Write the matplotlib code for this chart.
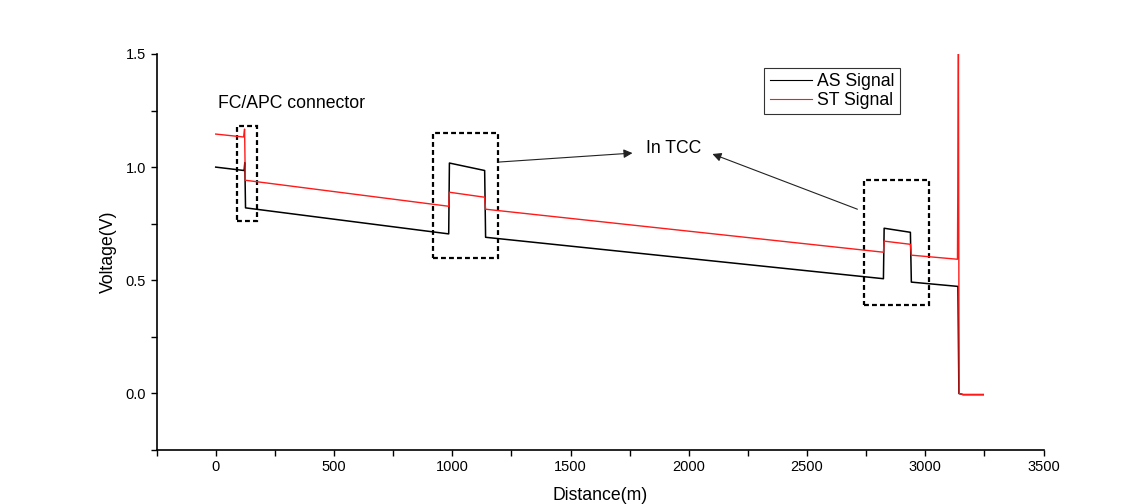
#!/usr/bin/env python

import matplotlib
matplotlib.use('Agg')
import matplotlib.pyplot as plt
from matplotlib.patches import Rectangle
from matplotlib.ticker import MultipleLocator

# AS signal (black), breakpoints
as_dist = [0, 120, 123, 126, 985, 988, 1137, 1141, 2823, 2826, 2937, 2941, 3138, 3142, 3160, 3245]
as_volt = [1.00, 0.985, 1.02, 0.82, 0.705, 1.018, 0.985, 0.69, 0.507, 0.73, 0.712, 0.492, 0.473, 0.0, -0.005, -0.005]

# ST signal (red)
st_dist = [0, 118, 122, 125, 985, 988, 1137, 1141, 2823, 2826, 2937, 2941, 3136, 3140, 3143, 3160, 3245]
st_volt = [1.146, 1.133, 1.168, 0.942, 0.827, 0.889, 0.867, 0.814, 0.624, 0.673, 0.659, 0.611, 0.593, 1.5, 0.0, -0.005, -0.005]

# dashed boxes: (x0, x1, y0, y1)
boxes = [(89, 173, 0.761, 1.181),
         (917, 1192, 0.597, 1.150),
         (2739, 3014, 0.389, 0.942)]

# arrows pointing at the "In TCC" label: (start, end)
arrows = [((1192, 1.022), (1762, 1.062)),
          ((2713, 0.814), (2100, 1.058))]


def main():
    plt.rcParams['font.family'] = ['Liberation Sans', 'DejaVu Sans']

    fig = plt.figure(figsize=(11.43, 5.04), dpi=100)
    ax = fig.add_axes([0.137, 0.107, 0.776, 0.786])

    ax.plot(as_dist, as_volt, color='black', lw=1.1, label='AS Signal')
    ax.plot(st_dist, st_volt, color='#ff1a1a', lw=1.0, label='ST Signal')

    for x0, x1, y0, y1 in boxes:
        ax.add_patch(Rectangle((x0, y0), x1 - x0, y1 - y0, fill=False,
                               edgecolor='black', lw=1.6,
                               linestyle=(0, (2.2, 1.4))))

    ax.text(1936, 1.084, 'In TCC', fontsize=12.7, ha='center', va='center')
    ax.text(8, 1.279, 'FC/APC connector', fontsize=12.7, ha='left', va='center')
    for start, end in arrows:
        ax.annotate('', xy=end, xytext=start,
                    arrowprops=dict(arrowstyle='-|>', color='#222222', lw=0.8,
                                    mutation_scale=13, shrinkA=0, shrinkB=0))

    ax.set_xlim(-250, 3500)
    ax.set_ylim(-0.25, 1.5)
    ax.xaxis.set_major_locator(MultipleLocator(500))
    ax.xaxis.set_minor_locator(MultipleLocator(250))
    ax.yaxis.set_major_locator(MultipleLocator(0.5))
    ax.yaxis.set_minor_locator(MultipleLocator(0.25))
    ax.set_xticks([0, 500, 1000, 1500, 2000, 2500, 3000, 3500])
    ax.set_yticks([0.0, 0.5, 1.0, 1.5])
    ax.tick_params(which='both', direction='out', length=4, width=1.0,
                   labelsize=10.5)

    for side in ['top', 'right']:
        ax.spines[side].set_visible(False)
    for side in ['left', 'bottom']:
        ax.spines[side].set_linewidth(1.2)

    ax.set_xlabel('Distance(m)', fontsize=12.7, labelpad=9)
    ax.set_ylabel('Voltage(V)', fontsize=12.7, labelpad=6)

    leg = ax.legend(loc='upper right', bbox_to_anchor=(0.838, 0.965),
                    fontsize=12.7, frameon=True, fancybox=False,
                    handlelength=2.4, handletextpad=0.3, borderpad=0.3,
                    labelspacing=0.1, borderaxespad=0)
    leg.get_frame().set_edgecolor('black')
    leg.get_frame().set_linewidth(0.8)
    for line in leg.get_lines():
        line.set_linewidth(0.8)

    fig.savefig('out.png', dpi=100)


if __name__ == "__main__":
    main()
